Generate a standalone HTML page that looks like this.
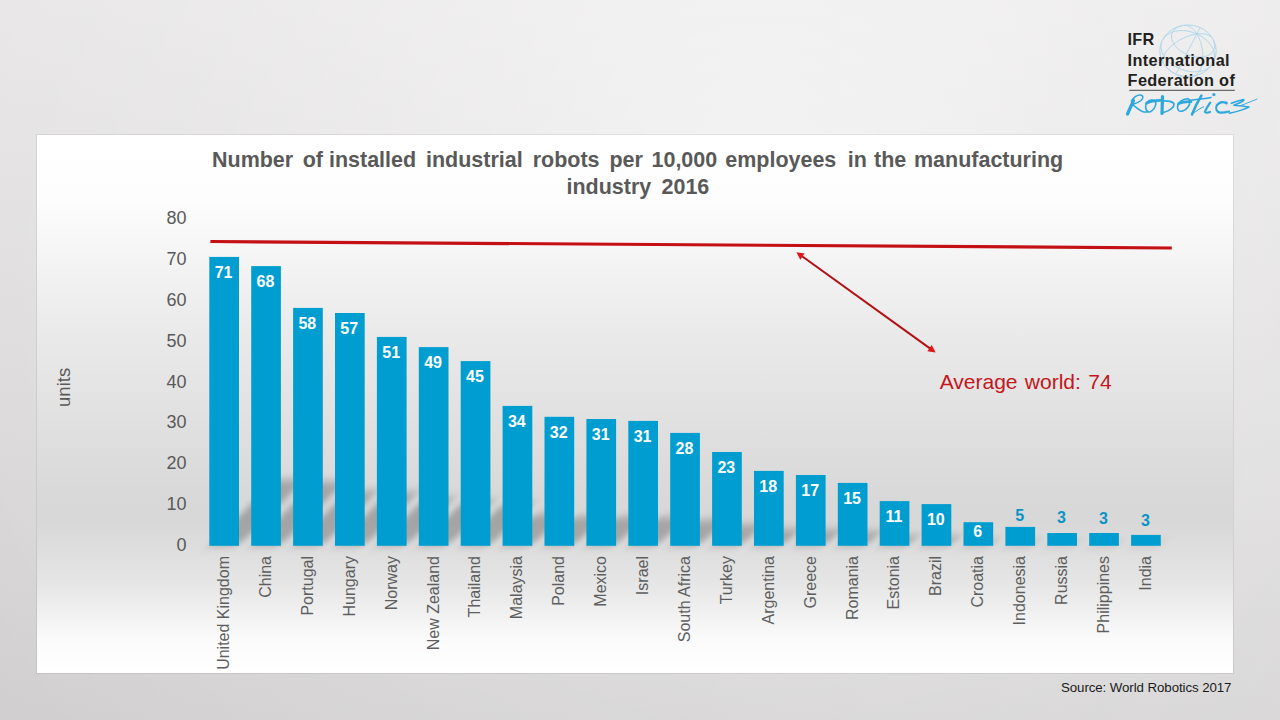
<!DOCTYPE html>
<html><head><meta charset="utf-8"><style>
html,body{margin:0;padding:0;}
body{width:1280px;height:720px;overflow:hidden;position:relative;background:#e0dfe0;}
</style></head><body>
<svg width="1280" height="720" viewBox="0 0 1280 720" style="position:absolute;left:0;top:0">
<defs>
<linearGradient id="bg" x1="0" y1="0" x2="0" y2="1">
<stop offset="0" stop-color="#e7e5e6"/><stop offset="1" stop-color="#d0cecf"/>
</linearGradient>
<radialGradient id="bgr" gradientUnits="userSpaceOnUse" cx="760" cy="160" r="950">
<stop offset="0" stop-color="#fff" stop-opacity="0.6"/><stop offset="0.6" stop-color="#fff" stop-opacity="0.2"/><stop offset="1" stop-color="#fff" stop-opacity="0"/>
</radialGradient>
<linearGradient id="bgx" x1="0" y1="0" x2="1" y2="0">
<stop offset="0" stop-color="#fff" stop-opacity="0"/><stop offset="0.5" stop-color="#fff" stop-opacity="0"/><stop offset="1" stop-color="#fff" stop-opacity="0.12"/>
</linearGradient>
<linearGradient id="pa" x1="0" y1="0" x2="0" y2="1">
<stop offset="0" stop-color="#ffffff"/><stop offset="0.12" stop-color="#fdfdfd"/><stop offset="0.35" stop-color="#ebebeb"/><stop offset="0.68" stop-color="#d8d8d8"/><stop offset="0.72" stop-color="#d8d8d8"/><stop offset="0.83" stop-color="#e5e5e5"/><stop offset="0.94" stop-color="#fbfbfb"/><stop offset="1" stop-color="#ffffff"/>
</linearGradient>
<filter id="blur" x="-50%" y="-50%" width="200%" height="200%"><feGaussianBlur stdDeviation="4.5"/></filter>
</defs>
<rect x="0" y="0" width="1280" height="720" fill="url(#bg)"/><rect x="0" y="0" width="1280" height="720" fill="url(#bgr)"/><rect x="0" y="0" width="1280" height="720" fill="url(#bgx)"/>
<rect x="36.5" y="134.5" width="1197" height="539" fill="none" stroke="#000" stroke-opacity="0.07" stroke-width="1"/>
<rect x="37" y="135" width="1196" height="538" fill="url(#pa)"/>
<g fill="#000" fill-opacity="0.24" filter="url(#blur)" transform="translate(0,545.8) skewX(-45) translate(0,-545.8)"><rect x="209.30" y="479.35" width="29.7" height="66.45"/><rect x="251.20" y="481.47" width="29.7" height="64.33"/><rect x="293.10" y="491.08" width="29.7" height="54.72"/><rect x="335.00" y="492.26" width="29.7" height="53.54"/><rect x="376.90" y="497.75" width="29.7" height="48.05"/><rect x="418.80" y="500.10" width="29.7" height="45.70"/><rect x="460.70" y="503.32" width="29.7" height="42.48"/><rect x="502.60" y="513.62" width="29.7" height="32.18"/><rect x="544.50" y="516.13" width="29.7" height="29.67"/><rect x="586.40" y="516.64" width="29.7" height="29.16"/><rect x="628.30" y="517.07" width="29.7" height="28.73"/><rect x="670.20" y="519.83" width="29.7" height="25.97"/><rect x="712.10" y="524.23" width="29.7" height="21.57"/><rect x="754.00" y="528.57" width="29.7" height="17.23"/><rect x="795.90" y="529.52" width="29.7" height="16.28"/><rect x="837.80" y="531.33" width="29.7" height="14.47"/><rect x="879.70" y="535.52" width="29.7" height="10.28"/><rect x="921.60" y="536.21" width="29.7" height="9.59"/><rect x="963.50" y="540.37" width="29.7" height="5.43"/><rect x="1005.40" y="541.45" width="29.7" height="4.35"/><rect x="1047.30" y="542.86" width="29.7" height="2.94"/><rect x="1089.20" y="542.86" width="29.7" height="2.94"/><rect x="1131.10" y="543.29" width="29.7" height="2.51"/></g>
<g font-family="Liberation Sans" font-weight="bold" font-size="21.5" fill="#595959"><text x="212.00" y="167.5" transform="translate(0,167.5) scale(1,1.055) translate(0,-167.5)">Number</text><text x="302.75" y="167.5" transform="translate(0,167.5) scale(1,1.055) translate(0,-167.5)">of</text><text x="329.00" y="167.5" transform="translate(0,167.5) scale(1,1.055) translate(0,-167.5)">installed</text><text x="426.00" y="167.5" transform="translate(0,167.5) scale(1,1.055) translate(0,-167.5)">industrial</text><text x="532.75" y="167.5" transform="translate(0,167.5) scale(1,1.055) translate(0,-167.5)">robots</text><text x="609.50" y="167.5" transform="translate(0,167.5) scale(1,1.055) translate(0,-167.5)">per</text><text x="651.50" y="167.5" transform="translate(0,167.5) scale(1,1.055) translate(0,-167.5)">10,000</text><text x="725.25" y="167.5" transform="translate(0,167.5) scale(1,1.055) translate(0,-167.5)">employees</text><text x="847.75" y="167.5" transform="translate(0,167.5) scale(1,1.055) translate(0,-167.5)">in</text><text x="874.00" y="167.5" transform="translate(0,167.5) scale(1,1.055) translate(0,-167.5)">the</text><text x="914.00" y="167.5" transform="translate(0,167.5) scale(1,1.055) translate(0,-167.5)">manufacturing</text><text x="566.50" y="193.9" transform="translate(0,193.9) scale(1,1.055) translate(0,-193.9)">industry</text><text x="661.50" y="193.9" transform="translate(0,193.9) scale(1,1.055) translate(0,-193.9)">2016</text></g>
<g font-family="Liberation Sans" font-size="18" fill="#595959" text-anchor="end"><text x="186.5" y="551.40">0</text><text x="186.5" y="510.42">10</text><text x="186.5" y="469.45">20</text><text x="186.5" y="428.47">30</text><text x="186.5" y="387.50">40</text><text x="186.5" y="346.52">50</text><text x="186.5" y="305.55">60</text><text x="186.5" y="264.57">70</text><text x="186.5" y="223.60">80</text></g>
<text transform="translate(70.3,387.4) rotate(-90)" font-family="Liberation Sans" font-size="18.5" fill="#595959" text-anchor="middle">units</text>
<g fill="#009ed0"><rect x="209.30" y="256.90" width="29.7" height="288.90"/><rect x="251.20" y="266.10" width="29.7" height="279.70"/><rect x="293.10" y="307.90" width="29.7" height="237.90"/><rect x="335.00" y="313.00" width="29.7" height="232.80"/><rect x="376.90" y="336.90" width="29.7" height="208.90"/><rect x="418.80" y="347.10" width="29.7" height="198.70"/><rect x="460.70" y="361.10" width="29.7" height="184.70"/><rect x="502.60" y="405.90" width="29.7" height="139.90"/><rect x="544.50" y="416.80" width="29.7" height="129.00"/><rect x="586.40" y="419.00" width="29.7" height="126.80"/><rect x="628.30" y="420.90" width="29.7" height="124.90"/><rect x="670.20" y="432.90" width="29.7" height="112.90"/><rect x="712.10" y="452.00" width="29.7" height="93.80"/><rect x="754.00" y="470.90" width="29.7" height="74.90"/><rect x="795.90" y="475.00" width="29.7" height="70.80"/><rect x="837.80" y="482.90" width="29.7" height="62.90"/><rect x="879.70" y="501.10" width="29.7" height="44.70"/><rect x="921.60" y="504.10" width="29.7" height="41.70"/><rect x="963.50" y="522.20" width="29.7" height="23.60"/><rect x="1005.40" y="526.90" width="29.7" height="18.90"/><rect x="1047.30" y="533.00" width="29.7" height="12.80"/><rect x="1089.20" y="533.00" width="29.7" height="12.80"/><rect x="1131.10" y="534.90" width="29.7" height="10.90"/></g>
<g font-family="Liberation Sans" font-weight="bold" font-size="16" fill="#fff" text-anchor="middle"><text x="223.55" y="277.70">71</text><text x="265.45" y="286.90">68</text><text x="307.35" y="328.70">58</text><text x="349.25" y="333.80">57</text><text x="391.15" y="357.70">51</text><text x="433.05" y="367.90">49</text><text x="474.95" y="381.90">45</text><text x="516.85" y="426.70">34</text><text x="558.75" y="437.60">32</text><text x="600.65" y="439.80">31</text><text x="642.55" y="441.70">31</text><text x="684.45" y="453.70">28</text><text x="726.35" y="472.80">23</text><text x="768.25" y="491.70">18</text><text x="810.15" y="495.80">17</text><text x="852.05" y="503.70">15</text><text x="893.95" y="521.90">11</text><text x="935.85" y="524.90">10</text><text x="977.75" y="536.90">6</text><text x="1019.65" y="520.80" fill="#0b93c6">5</text><text x="1061.55" y="522.90" fill="#0b93c6">3</text><text x="1103.45" y="524.00" fill="#0b93c6">3</text><text x="1145.35" y="526.00" fill="#0b93c6">3</text></g>
<g font-family="Liberation Sans" font-size="16" fill="#5e5e5e" text-anchor="end"><text transform="translate(229.05,556.0) rotate(-90)">United Kingdom</text><text transform="translate(270.95,556.0) rotate(-90)">China</text><text transform="translate(312.85,556.0) rotate(-90)">Portugal</text><text transform="translate(354.75,556.0) rotate(-90)">Hungary</text><text transform="translate(396.65,556.0) rotate(-90)">Norway</text><text transform="translate(438.55,556.0) rotate(-90)">New Zealand</text><text transform="translate(480.45,556.0) rotate(-90)">Thailand</text><text transform="translate(522.35,556.0) rotate(-90)">Malaysia</text><text transform="translate(564.25,556.0) rotate(-90)">Poland</text><text transform="translate(606.15,556.0) rotate(-90)">Mexico</text><text transform="translate(648.05,556.0) rotate(-90)">Israel</text><text transform="translate(689.95,556.0) rotate(-90)">South Africa</text><text transform="translate(731.85,556.0) rotate(-90)">Turkey</text><text transform="translate(773.75,556.0) rotate(-90)">Argentina</text><text transform="translate(815.65,556.0) rotate(-90)">Greece</text><text transform="translate(857.55,556.0) rotate(-90)">Romania</text><text transform="translate(899.45,556.0) rotate(-90)">Estonia</text><text transform="translate(941.35,556.0) rotate(-90)">Brazil</text><text transform="translate(983.25,556.0) rotate(-90)">Croatia</text><text transform="translate(1025.15,556.0) rotate(-90)">Indonesia</text><text transform="translate(1067.05,556.0) rotate(-90)">Russia</text><text transform="translate(1108.95,556.0) rotate(-90)">Philippines</text><text transform="translate(1150.85,556.0) rotate(-90)">India</text></g>
<line x1="210.4" y1="241.5" x2="1171.8" y2="248" stroke="#c40f14" stroke-width="3.2"/>
<line x1="800" y1="254.8" x2="932" y2="349.9" stroke="#b30f14" stroke-width="2"/>
<polygon points="796.4,252.2 804.6,253.4 800.3,259.8" fill="#e0141a"/>
<polygon points="935.6,352.5 927.4,351.3 931.7,344.9" fill="#e0141a"/>
<text x="939.7" y="388.5" font-family="Liberation Sans" font-size="21" word-spacing="1.5" fill="#c4161b">Average world: 74</text>
<text x="1231.5" y="692" font-family="Liberation Sans" font-size="13.3" fill="#1a1a1a" text-anchor="end" textLength="170.5" lengthAdjust="spacing">Source: World Robotics 2017</text>
<g id="logo">
<g fill="none" stroke="#b0d8ea" stroke-width="1">
<ellipse cx="1188" cy="50.9" rx="28.2" ry="25.9"/>
<path d="M1189.8 76.8 L1188.1 76.8 L1186.4 76.8 L1184.7 76.6 L1182.9 76.3 L1181.2 75.9 L1179.4 75.4 L1177.7 74.8 L1176.0 74.1 L1174.4 73.3 L1172.8 72.4 L1171.3 71.5 L1169.8 70.4 L1168.5 69.3 L1167.3 68.2 L1166.1 67.0 L1165.1 65.7 M1211.4 65.0 L1210.4 66.3 L1209.2 67.4 L1207.9 68.4 L1206.4 69.3 L1204.7 70.1 L1202.9 70.7 L1201.1 71.2 L1199.1 71.6 L1197.0 71.8 L1194.8 71.9 L1192.6 71.8 L1190.3 71.5 L1188.0 71.2 L1185.8 70.7 L1183.5 70.0 L1181.2 69.2 L1179.0 68.3 L1176.9 67.3 L1174.8 66.1 L1172.8 64.9 L1171.0 63.5 L1169.2 62.1 L1167.6 60.6 L1166.2 59.0 L1164.9 57.4 L1163.8 55.7 L1162.8 54.1 L1162.1 52.4 L1161.5 50.7 L1161.2 49.0 L1161.0 47.4 L1161.0 45.8 L1161.2 44.2 L1161.7 42.7 M1213.6 50.4 L1212.9 51.5 L1212.1 52.6 L1211.1 53.5 L1210.0 54.3 L1208.8 55.1 L1207.5 55.7 L1206.0 56.2 L1204.4 56.6 L1202.8 56.9 L1201.1 57.1 L1199.3 57.2 L1197.5 57.1 L1195.6 56.9 L1193.7 56.6 L1191.9 56.2 L1190.0 55.6 L1188.1 55.0 L1186.3 54.2 L1184.6 53.4 L1182.9 52.4 L1181.2 51.4 L1179.7 50.3 L1178.3 49.1 L1177.0 47.9 L1175.8 46.6 L1174.7 45.3 L1173.8 43.9 L1173.0 42.5 L1172.4 41.1 L1171.9 39.8 L1171.6 38.4 L1171.5 37.0 L1171.5 35.7 L1171.7 34.4 L1172.1 33.2 L1172.6 32.0 L1173.2 30.9 L1174.1 29.9 L1175.0 29.0 L1176.1 28.1 L1177.3 27.4 L1178.7 26.8 L1180.2 26.2 L1181.7 25.8 M1213.1 39.9 L1213.7 41.3 L1214.2 42.7 L1214.5 44.1 L1214.7 45.4 L1214.6 46.8 L1214.4 48.0 L1214.1 49.3 L1213.6 50.4 M1213.0 62.2 L1213.7 60.7 L1214.2 59.1 L1214.5 57.5 L1214.5 55.7 L1214.4 54.0 L1214.1 52.2 L1213.6 50.4 L1212.9 48.7 L1212.0 46.9 L1210.9 45.2 L1209.6 43.5 L1208.2 41.9 L1206.6 40.3 L1204.9 38.8 L1203.0 37.5 L1201.1 36.2 L1199.0 35.0 L1196.8 34.0 L1194.6 33.1 L1192.4 32.3 L1190.1 31.6 L1187.8 31.1 L1185.4 30.8 L1183.1 30.6 L1180.9 30.6 L1178.7 30.7 L1176.6 31.0 L1174.5 31.4 L1172.6 32.0 L1170.7 32.7 L1169.1 33.6 L1167.5 34.6 L1166.1 35.7 L1164.9 37.0 L1163.8 38.3 L1163.0 39.8 M1199.9 70.2 L1200.6 68.6 L1201.2 66.9 L1201.8 65.1 L1202.2 63.2 L1202.5 61.2 L1202.7 59.1 L1202.8 56.9 L1202.8 54.7 L1202.7 52.5 L1202.4 50.3 L1202.1 48.0 L1201.6 45.8 L1201.0 43.7 L1200.4 41.6 L1199.6 39.5 L1198.8 37.6 L1197.8 35.7 L1196.8 34.0 L1195.8 32.4 L1194.7 30.9 L1193.5 29.6 L1192.3 28.4 L1191.0 27.5 L1189.7 26.7 L1188.4 26.0 L1187.1 25.6 L1185.9 25.4 L1184.6 25.4 M1192.7 76.5 L1193.9 76.1 L1195.0 75.6 L1196.1 74.8 L1197.2 73.9 L1198.2 72.8 L1199.1 71.6 L1199.9 70.2 M1179.8 66.9 L1180.6 65.3 L1181.4 63.7 L1182.3 61.9 L1183.3 60.1 L1184.3 58.2 L1185.3 56.2 L1186.3 54.2 L1187.4 52.2 L1188.4 50.2 L1189.5 48.2 L1190.5 46.1 L1191.5 44.2 L1192.5 42.3 L1193.5 40.4 L1194.4 38.7 L1195.3 37.0 L1196.1 35.4 L1196.8 34.0 L1197.5 32.6 L1198.1 31.5 L1198.7 30.4 L1199.1 29.6 L1199.5 28.9 L1199.8 28.3 L1200.0 27.9 L1200.1 27.8 M1175.9 74.3 L1176.0 74.1 L1176.2 73.8 L1176.4 73.3 L1176.8 72.6 L1177.2 71.7 L1177.7 70.7 L1178.3 69.6 L1179.0 68.3 L1179.8 66.9 M1164.5 54.3 L1165.3 52.8 L1166.4 51.3 L1167.6 49.7 L1168.9 48.2 L1170.4 46.8 L1172.0 45.3 L1173.8 43.9 L1175.7 42.6 L1177.6 41.3 L1179.7 40.1 L1181.8 38.9 L1183.9 37.9 L1186.1 36.9 L1188.3 36.1 L1190.5 35.4 L1192.6 34.8 L1194.8 34.3 L1196.8 34.0 L1198.9 33.7 L1200.8 33.7 L1202.6 33.7 L1204.4 33.9 L1206.0 34.2 L1207.4 34.6 L1208.7 35.2 L1209.9 35.9 L1210.9 36.6 L1211.7 37.5 M1163.7 63.4 L1163.2 62.3 L1162.9 61.2 L1162.9 59.9 L1163.0 58.6 L1163.3 57.2 L1163.8 55.7 L1164.5 54.3"/>
</g>
<g font-family="Liberation Sans" font-weight="bold" font-size="16.3" fill="#231f20">
<text x="1127.6" y="45.3" textLength="26.6" lengthAdjust="spacing">IFR</text>
<text x="1127.6" y="65.8" textLength="102" lengthAdjust="spacing">International</text>
<text x="1127.6" y="86.3" textLength="107.2" lengthAdjust="spacing">Federation of</text>
</g>
<line x1="1129.3" y1="90.3" x2="1234.8" y2="90.3" stroke="#6a6a6a" stroke-width="1.2"/>
<g fill="none" stroke="#2da7dc" stroke-linecap="round" stroke-linejoin="round">
<path d="M1127.5 114 L1133.5 100.5" stroke-width="3.2"/>
<path d="M1131.3 100.9 C1134 97 1138 94.8 1140.5 95 C1143.5 95.3 1143.8 98 1141 100.5 C1139 102.2 1135 103.8 1132.4 104.4 C1136 107 1140 111.5 1144 112 C1146 112.3 1147.5 112 1148.5 111.8" stroke-width="1.5"/>
<path d="M1148.5 111.8 C1145 110.5 1144.8 105 1147.2 102 C1149.5 99.8 1154.5 99 1155.8 102.5 C1156.5 106 1153 111 1150 112" stroke-width="1.6"/>
<path d="M1146.5 103.2 C1150 101.5 1155 100.5 1160.3 100.4" stroke-width="2.8"/>
<path d="M1162.5 96.6 L1162 113.5" stroke-width="3.2"/>
<path d="M1162.5 101 C1167 100.5 1173.5 101.5 1174 104.2 C1174 107.5 1170 110.5 1163.5 112.4" stroke-width="1.6"/>
<path d="M1177.5 107 C1177.5 103 1182 99 1187.6 98.7 C1190.5 99 1190.5 103.5 1188 107 C1185.5 110.5 1181 112.5 1178.5 110.5 C1177.5 109.5 1177.5 108 1177.5 107" stroke-width="1.6"/>
<path d="M1178.8 103.6 C1182 102 1186 101.5 1191 101.6" stroke-width="2.8"/>
<path d="M1201.4 95.6 C1198 101 1195 107 1192 114.4" stroke-width="2.6"/>
<path d="M1190.3 100.3 C1197 99.5 1205 98.5 1211 97.4" stroke-width="1.5"/>
<path d="M1192 114.4 C1196 111 1200 108.5 1203.7 106.7" stroke-width="1"/>
<path d="M1210.2 102.6 C1208 106 1205.5 109.5 1205 112 C1206 113 1208 112.8 1210 112" stroke-width="2.2"/>
<circle cx="1213.9" cy="94.6" r="1.6" fill="#2da7dc" stroke="none"/>
<path d="M1226 102.8 C1223 101.5 1219.5 102 1217 105 C1215 108.5 1216.5 112 1220 112.6 C1222.5 112.8 1225 112.5 1229 111.5" stroke-width="2.2"/>
<circle cx="1226.3" cy="103" r="1.5" fill="#2da7dc" stroke="none"/>
<path d="M1231.3 103.3 C1235 101.8 1240 100.2 1243.6 99.6 C1244.5 100.2 1243 101.2 1241 102.2 C1238.5 103.5 1235.5 104.5 1233.8 105.2 C1238 105.8 1245 106.2 1249 107.1 C1245 109 1236 111.8 1229.4 113.3" stroke-width="1.6"/>
<path d="M1240.7 105.6 L1257 99.1" stroke-width="0.9"/>
</g>
</g>

</svg>
</body></html>
